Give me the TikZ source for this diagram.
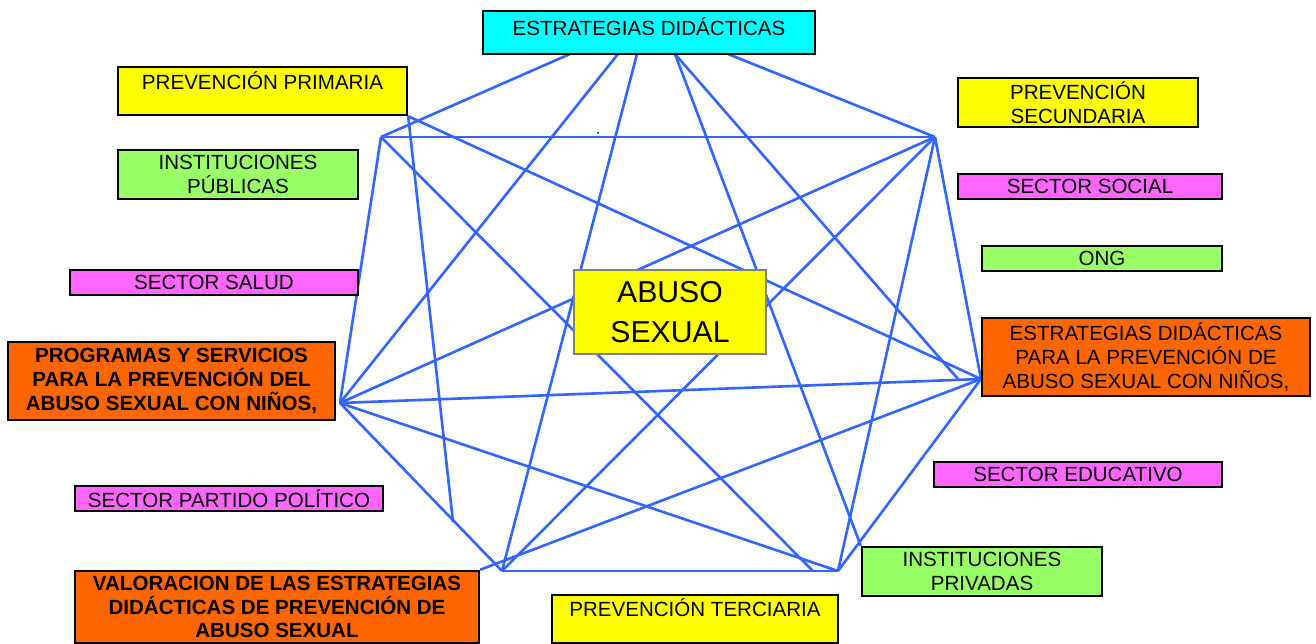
\documentclass[tikz,border=0pt]{standalone}
\usepackage{fontspec}
\setmainfont{Liberation Sans}
\usetikzlibrary{backgrounds}
\definecolor{celeste}{HTML}{00FFFF}
\definecolor{amarillo}{HTML}{FFFF00}
\definecolor{verde}{HTML}{99FF66}
\definecolor{rosa}{HTML}{FF66FF}
\definecolor{naranja}{HTML}{FF6600}
\definecolor{azul}{HTML}{3366FF}
\begin{document}
\begin{tikzpicture}[x=0.02cm,y=-0.02cm,
		box/.style={draw=black,line width=1.4pt,inner sep=0pt,align=center,font=\fontsize{11.7}{13.6}\selectfont},
		lnk/.style={draw=azul,line width=1.5pt}]
	
	\useasboundingbox (0,0) rectangle (1316,644);
	
	% cajas
	\node[box,fill=celeste,minimum width=6.64cm,minimum height=0.86cm,text height=8.4pt,text depth=5pt] (estr) at (649,32.5) {ESTRATEGIAS DIDÁCTICAS};
	\node[box,fill=amarillo,minimum width=5.78cm,minimum height=0.96cm] (prim) at (262.5,91) {PREVENCIÓN PRIMARIA\\[-5.6pt]\strut};
	\node[box,fill=verde,minimum width=4.8cm,minimum height=0.98cm] (publ) at (238,174.5) {INSTITUCIONES\\PÚBLICAS};
	\node[box,fill=rosa,minimum width=5.76cm,minimum height=0.5cm] (salud) at (214,282.5) {SECTOR SALUD};
	\node[box,fill=naranja,minimum width=6.54cm,minimum height=1.56cm,font=\fontsize{11.7}{13.6}\selectfont\bfseries] (prog) at (171.5,381) {PROGRAMAS Y SERVICIOS\\PARA LA PREVENCIÓN DEL\\ABUSO SEXUAL CON NIÑOS,};
	\node[box,fill=rosa,minimum width=6.16cm,minimum height=0.5cm] (partido) at (229,498.5) {SECTOR PARTIDO POLÍTICO};
	\node[box,fill=naranja,minimum width=8.08cm,minimum height=1.44cm,font=\fontsize{11.7}{13.6}\selectfont\bfseries] (valor) at (277,607) {VALORACION DE LAS ESTRATEGIAS\\DIDÁCTICAS DE PREVENCIÓN DE\\ABUSO SEXUAL};
	\node[box,fill=amarillo,minimum width=5.72cm,minimum height=0.96cm] (terc) at (695,619) {PREVENCIÓN TERCIARIA\\[-4.5pt]\strut};
	\node[box,fill=verde,minimum width=4.8cm,minimum height=0.98cm] (priv) at (982,571.5) {INSTITUCIONES\\PRIVADAS};
	\node[box,fill=rosa,minimum width=5.76cm,minimum height=0.5cm] (educ) at (1078,474.5) {SECTOR EDUCATIVO};
	\node[box,fill=naranja,minimum width=6.56cm,minimum height=1.56cm] (estrprev) at (1146,357) {ESTRATEGIAS DIDÁCTICAS\\PARA LA PREVENCIÓN DE\\ABUSO SEXUAL CON NIÑOS,};
	\node[box,fill=verde,minimum width=4.8cm,minimum height=0.5cm] (ong) at (1102,258.5) {ONG};
	\node[box,fill=rosa,minimum width=5.28cm,minimum height=0.5cm] (social) at (1090,186.5) {SECTOR SOCIAL};
	\node[box,fill=amarillo,minimum width=4.8cm,minimum height=0.98cm] (secu) at (1078,102.5) {PREVENCIÓN\\SECUNDARIA};
	\node[box,draw=gray,fill=amarillo,minimum width=3.84cm,minimum height=1.68cm,font=\fontsize{17.2}{22.7}\selectfont] (abuso) at (670,312) {ABUSO\\SEXUAL};
	
	% puntos de la red
	\coordinate (t1) at (570,54);
	\coordinate (t2) at (618,54);
	\coordinate (t3) at (637,54);
	\coordinate (t4) at (675,54);
	\coordinate (t5) at (728,54);
	\coordinate (tl) at (381,137);
	\coordinate (tr) at (935,137);
	\coordinate (l) at (340,403);
	\coordinate (r) at (981,379);
	\coordinate (r2) at (958,379);
	\coordinate (bl) at (502,571);
	\coordinate (bl3) at (453,522);
	\coordinate (br) at (838,571);
	\coordinate (br2) at (813,571);
	\coordinate (pp) at (prim.south east);
	\coordinate (ip) at (priv.north west);
	\coordinate (bl2) at (valor.north east);
	
	\begin{scope}[on background layer]
		\foreach \a/\b in {t1/tl,t5/tr,tl/tr,tl/l,tl/br2,t2/l,t3/bl,t4/r2,t4/ip,pp/r,pp/bl3,
			tr/r,tr/br,tr/l,tr/bl,l/r,l/br,l/bl,bl/br,bl2/r,br/r}
			\draw[lnk] (\a) -- (\b);
	\end{scope}
	
	\fill (598,133) circle (1);
	
\end{tikzpicture}
\end{document}
